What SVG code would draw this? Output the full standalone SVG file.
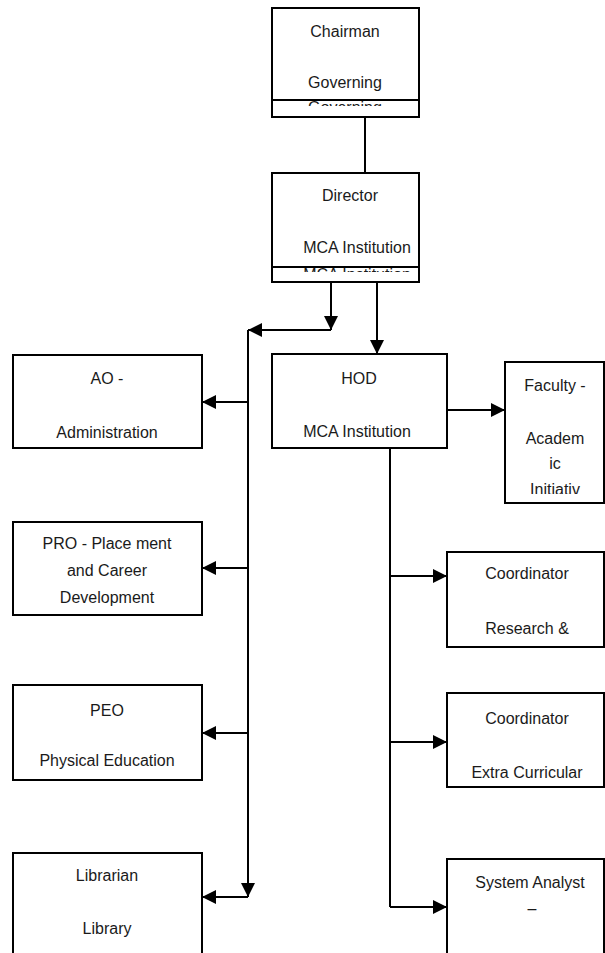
<svg xmlns="http://www.w3.org/2000/svg" width="605" height="953" viewBox="0 0 605 953">
<style>
.box{fill:#fff;stroke:#000;stroke-width:2}
.ln{fill:none;stroke:#000;stroke-width:2}
text{font-family:"Liberation Sans",Arial,sans-serif;font-size:16px;fill:#1a1a1a;text-anchor:middle}
</style>
<defs>
<marker id="ah" viewBox="0 0 14 14" refX="14" refY="7" markerWidth="14" markerHeight="14" markerUnits="userSpaceOnUse" orient="auto">
<path d="M0,0 L14,7 L0,14 Z" fill="#000"/>
</marker>
<clipPath id="c1"><rect x="272" y="101" width="147" height="5"/></clipPath>
<clipPath id="c2"><rect x="272" y="268" width="147" height="4"/></clipPath>
<clipPath id="c3"><rect x="505" y="362" width="99" height="132"/></clipPath>
</defs>
<g id="connectors">
<line class="ln" x1="365" y1="117" x2="365" y2="173"/>
<line class="ln" x1="331" y1="282" x2="331" y2="330" marker-end="url(#ah)"/>
<line class="ln" x1="331" y1="330" x2="248" y2="330" marker-end="url(#ah)"/>
<line class="ln" x1="248" y1="330" x2="248" y2="897" marker-end="url(#ah)"/>
<line class="ln" x1="248" y1="402" x2="202" y2="402" marker-end="url(#ah)"/>
<line class="ln" x1="248" y1="568" x2="202" y2="568" marker-end="url(#ah)"/>
<line class="ln" x1="248" y1="733" x2="202" y2="733" marker-end="url(#ah)"/>
<line class="ln" x1="248" y1="897" x2="202" y2="897" marker-end="url(#ah)"/>
<line class="ln" x1="377" y1="282" x2="377" y2="354" marker-end="url(#ah)"/>
<line class="ln" x1="447" y1="410" x2="505" y2="410" marker-end="url(#ah)"/>
<line class="ln" x1="390" y1="448" x2="390" y2="907"/>
<line class="ln" x1="390" y1="576" x2="447" y2="576" marker-end="url(#ah)"/>
<line class="ln" x1="390" y1="742" x2="447" y2="742" marker-end="url(#ah)"/>
<line class="ln" x1="390" y1="907" x2="447" y2="907" marker-end="url(#ah)"/>
</g>
<g id="chairman">
<rect class="box" x="272" y="8" width="147" height="109"/>
<line class="ln" x1="272" y1="100" x2="419" y2="100"/>
<text x="345" y="37">Chairman</text>
<text x="345" y="88">Governing</text>
<text x="345" y="113" clip-path="url(#c1)">Governing</text>
</g>
<g id="director">
<rect class="box" x="272" y="173" width="147" height="109"/>
<line class="ln" x1="272" y1="267" x2="419" y2="267"/>
<text x="350" y="201">Director</text>
<text x="357" y="253">MCA Institution</text>
<text x="357" y="280" clip-path="url(#c2)">MCA Institution</text>
</g>
<g id="hod">
<rect class="box" x="272" y="354" width="175" height="94"/>
<text x="359" y="384">HOD</text>
<text x="357" y="437">MCA Institution</text>
</g>
<g id="faculty">
<rect class="box" x="505" y="362" width="99" height="141"/>
<g clip-path="url(#c3)">
<text x="555" y="391">Faculty -</text>
<text x="555" y="444">Academ</text>
<text x="555" y="469">ic</text>
<text x="555" y="495">Initiativ</text>
</g>
</g>
<g id="ao">
<rect class="box" x="13" y="355" width="189" height="93"/>
<text x="107" y="384">AO -</text>
<text x="107" y="438">Administration</text>
</g>
<g id="pro">
<rect class="box" x="13" y="522" width="189" height="93"/>
<text x="107" y="549">PRO - Place ment</text>
<text x="107" y="576">and Career</text>
<text x="107" y="603">Development</text>
</g>
<g id="peo">
<rect class="box" x="13" y="685" width="189" height="95"/>
<text x="107" y="716">PEO</text>
<text x="107" y="766">Physical Education</text>
</g>
<g id="librarian">
<rect class="box" x="13" y="853" width="189" height="110"/>
<text x="107" y="881">Librarian</text>
<text x="107" y="934">Library</text>
</g>
<g id="coord-research">
<rect class="box" x="447" y="552" width="157" height="95"/>
<text x="527" y="579">Coordinator</text>
<text x="527" y="634">Research &amp;</text>
</g>
<g id="coord-extra">
<rect class="box" x="447" y="693" width="157" height="94"/>
<text x="527" y="724">Coordinator</text>
<text x="527" y="778">Extra Curricular</text>
</g>
<g id="system-analyst">
<rect class="box" x="447" y="859" width="157" height="110"/>
<text x="530" y="888">System Analyst</text>
<text x="532" y="914">–</text>
</g>
</svg>
